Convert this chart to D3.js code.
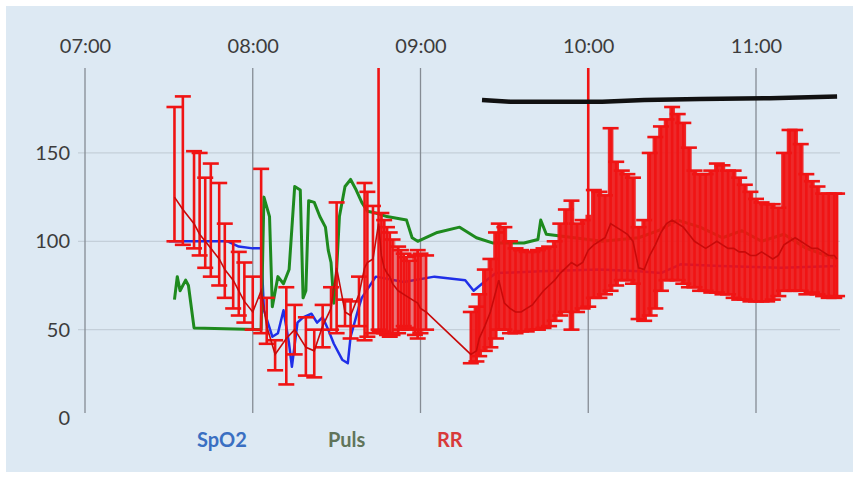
<!DOCTYPE html>
<html>
<head>
<meta charset="utf-8">
<script src="https://cdn.jsdelivr.net/npm/d3@7"></script>
<style>
  body { margin: 0; background: #fff; }
  text { font-family: Lato, "Open Sans", sans-serif; }
</style>
</head>
<body>
<div id="chart"></div>
<script>
'use strict'

// hour ticks (top axis) and value ticks (left axis)
var hourTicks = ["07:00", "08:00", "09:00", "10:00", "11:00"];
var valueTicks = [0, 50, 100, 150];
var seriesNames = ["SpO2", "Puls", "RR"];

// SpO2 (blue line)
var spo2Time = ["07:30","07:41","07:51","07:55","08:00","08:03","08:04","08:07","08:09","08:11","08:13","08:14","08:16","08:18","08:21","08:23","08:25","08:27","08:29","08:32","08:34","08:35","08:38","08:39","08:44","08:54","09:05","09:16","09:19","09:22","09:27","09:43","10:04","10:18","10:26","10:33","10:47","11:09","11:29"];
var spo2Value = [100,100,100,97,96,96,61,46,48,61,42,29,54,57,59,54,57,50,42,33,31,46,63,68,80,77,80,78,72,76,82,83,84,83,82,87,86,85,86];

// Puls (green line)
var pulsTime = ["07:32","07:33","07:34","07:36","07:37","07:39","08:03","08:04","08:06","08:07","08:09","08:11","08:13","08:15","08:17","08:18","08:19","08:20","08:22","08:24","08:26","08:27","08:28","08:29","08:30","08:31","08:33","08:35","08:37","08:39","08:41","08:44","08:48","08:55","08:57","08:59","09:06","09:14","09:20","09:26","09:37","09:42","09:43","09:45","09:55","10:05","10:18","10:25","10:32","10:40","10:48","10:55","11:02","11:10","11:18","11:25","11:29"];
var pulsValue = [67,80,72,78,75,51,50,125,114,63,80,76,84,131,129,68,72,123,122,114,108,95,88,65,84,114,131,135,129,122,117,116,114,112,102,100,105,108,102,99,99,101,112,104,102,100,102,106,112,108,102,106,100,104,96,92,90];

// RR: mean with min / max whiskers
var rrTime = ["07:32","07:35","07:39","07:41","07:43","07:45","07:48","07:50","07:53","07:55","07:57","08:00","08:03","08:05","08:08","08:12","08:15","08:19","08:22","08:25","08:28","08:30","08:33","08:35","08:38","08:40","08:41","08:43","08:45","08:46","08:47","08:48","08:49","08:50","08:52","08:53","08:54","08:55","08:56","08:58","08:59","09:00","09:02",
  "09:18","09:20","09:21","09:23","09:25","09:27","09:28","09:30","09:32","09:34","09:36","09:38","09:40","09:42","09:44","09:46","09:48","09:50","09:52","09:54","09:56","09:58","10:00","10:02","10:04","10:06","10:08","10:10","10:12","10:14","10:16","10:18","10:20","10:22","10:24","10:26","10:28","10:30","10:32","10:34","10:36","10:38","10:40","10:42","10:44","10:46","10:48","10:50","10:52","10:54","10:56","10:58","11:00","11:02","11:04","11:06","11:08","11:10","11:12","11:14","11:16","11:18","11:20","11:22","11:24","11:26","11:28","11:29"];
var rrMean = [125,118,110,104,100,96,90,84,78,72,66,60,72,52,36,45,50,40,38,52,62,85,60,58,70,85,88,90,110,92,85,82,80,76,72,71,70,69,68,66,65,62,60,
  36,38,45,52,60,72,78,65,62,60,60,62,64,68,72,75,78,82,85,88,86,88,95,98,100,102,110,108,106,104,100,85,84,92,98,105,110,112,110,108,104,100,98,96,98,100,98,96,96,94,94,92,92,94,92,90,92,98,100,102,100,98,96,96,94,92,92,90];
var rrLow = [100,98,96,92,85,80,75,68,62,58,54,50,48,42,27,19,36,24,23,40,50,48,52,45,52,44,46,48,50,49,48,47,46,47,48,50,52,51,50,47,45,48,50,
  31,32,35,38,40,45,50,50,48,48,49,49,50,50,51,52,55,58,60,50,60,62,63,68,68,70,72,75,78,78,76,56,55,58,62,72,78,78,78,76,74,74,72,72,71,71,70,70,68,67,67,66,66,66,66,67,69,72,72,72,72,70,71,70,69,68,68,69];
var rrHigh = [176,182,151,150,136,144,133,110,100,94,88,80,141,68,44,74,64,57,50,64,74,122,67,66,80,133,128,120,240,116,112,108,105,101,97,95,93,91,89,92,95,93,92,
  60,63,70,84,90,105,110,108,100,96,95,94,94,95,96,97,100,110,118,123,110,112,240,129,128,126,164,145,140,138,136,108,112,150,159,165,169,176,172,167,153,140,138,138,140,144,143,140,140,136,132,128,124,122,121,121,119,150,163,163,155,138,134,131,127,127,127,127];

// reference line (black)
var refTime = ["09:22","09:32","09:45","10:05","10:20","10:40","11:05","11:29"];
var refValue = [180,179,179,179,180,180.5,181,182];

// parts of RR dense enough to read as a band: start, end, opacity
var bandRanges = [["08:46", "09:02", 0.55], ["09:18", "11:29", 0.9]];

const W = 859, H = 478;
const colors = { SpO2: "#1f2fe8", Puls: "#1e8a1e", RR: "#f01414" };
const legendColors = { SpO2: "#3a6fc2", Puls: "#60745a", RR: "#d83a3a" };

var parse = d3.timeParse("%H:%M");

var svg = d3.select('#chart').append('svg')
  .attr('width', W)
  .attr('height', H);

// panel background
svg.append('rect')
  .attr('x', 6).attr('y', 6)
  .attr('width', 847).attr('height', 466)
  .attr('fill', '#dde9f3');

var x = d3.scaleTime()
  .domain([parse("07:00"), parse("11:00")])
  .range([85, 756]);

var y = d3.scaleLinear()
  .domain([0, 200])
  .range([418, 64.6]);

var plotTop = 68, plotBottom = 413;

// clip for the spikes that run off the top
svg.append('clipPath').attr('id', 'clip')
  .append('rect')
  .attr('x', 60).attr('y', plotTop)
  .attr('width', 800).attr('height', plotBottom - plotTop + 20);

// horizontal grid
svg.append('g')
  .selectAll('line')
  .data(valueTicks.filter(d => d > 0))
  .enter().append('line')
  .attr('x1', 78).attr('x2', 840)
  .attr('y1', d => y(d)).attr('y2', d => y(d))
  .style('stroke', '#c4cfd9')
  .style('stroke-width', 1.2);

// vertical hour lines
svg.append('g')
  .selectAll('line')
  .data(hourTicks)
  .enter().append('line')
  .attr('x1', d => x(parse(d))).attr('x2', d => x(parse(d)))
  .attr('y1', plotTop).attr('y2', plotBottom)
  .style('stroke', '#858c94')
  .style('stroke-width', 1.3);

// top axis labels
var xAxis = d3.axisTop(x)
  .tickValues(hourTicks.map(parse))
  .tickFormat(d3.timeFormat("%H:%M"))
  .tickSize(0)
  .tickPadding(0);
var xg = svg.append('g')
  .attr('transform', 'translate(0, 53)')
  .call(xAxis);
xg.select('.domain').remove();
xg.selectAll('text')
  .style('font-size', '20px')
  .style('fill', '#3c3c3c');

// left axis labels
var yAxis = d3.axisLeft(y)
  .tickValues(valueTicks)
  .tickSize(0)
  .tickPadding(0);
var yg = svg.append('g')
  .attr('transform', 'translate(70, 0)')
  .call(yAxis);
yg.select('.domain').remove();
yg.selectAll('text')
  .style('font-size', '20px')
  .style('fill', '#3c3c3c');

var plot = svg.append('g').attr('clip-path', 'url(#clip)');

var lineGen = d3.line()
  .x(d => x(parse(d.t)))
  .y(d => y(d.v));

var spo2 = spo2Time.map((t, i) => ({ t: t, v: spo2Value[i] }));
var puls = pulsTime.map((t, i) => ({ t: t, v: pulsValue[i] }));
var rr = rrTime.map((t, i) => ({ t: t, mean: rrMean[i], low: rrLow[i], high: rrHigh[i] }));
var ref = refTime.map((t, i) => ({ t: t, v: refValue[i] }));

plot.append('path')
  .datum(spo2)
  .attr('d', lineGen)
  .style('fill', 'none')
  .style('stroke', colors.SpO2)
  .style('stroke-width', 2.5)
  .style('stroke-linejoin', 'round');

plot.append('path')
  .datum(puls)
  .attr('d', lineGen)
  .style('fill', 'none')
  .style('stroke', colors.Puls)
  .style('stroke-width', 3)
  .style('stroke-linejoin', 'round');

// RR band in the dense parts (spikes left out of the band, their whisker shows them)
var bandArea = d3.area()
  .curve(d3.curveStep)
  .x(d => x(parse(d.t)))
  .y0(d => y(d.low))
  .y1(d => y(d.high > 200 ? d.mean + 20 : d.high));
bandRanges.forEach(function(r) {
  var seg = rr.filter(d => parse(d.t) >= parse(r[0]) && parse(d.t) <= parse(r[1]));
  plot.append('path')
    .datum(seg)
    .attr('d', bandArea)
    .style('fill', colors.RR)
    .style('fill-opacity', r[2]);
});

// RR whiskers
var capW = 8;
var bars = plot.append('g').selectAll('g')
  .data(rr)
  .enter().append('g')
  .style('stroke', colors.RR);
bars.append('line')
  .attr('x1', d => x(parse(d.t))).attr('x2', d => x(parse(d.t)))
  .attr('y1', d => y(d.low)).attr('y2', d => y(d.high))
  .style('stroke-width', 2.6);
bars.append('line')
  .attr('x1', d => x(parse(d.t)) - capW).attr('x2', d => x(parse(d.t)) + capW)
  .attr('y1', d => y(d.high)).attr('y2', d => y(d.high))
  .style('stroke-width', 2.6);
bars.append('line')
  .attr('x1', d => x(parse(d.t)) - capW).attr('x2', d => x(parse(d.t)) + capW)
  .attr('y1', d => y(d.low)).attr('y2', d => y(d.low))
  .style('stroke-width', 2.6);

// RR mean line
plot.append('path')
  .datum(rr)
  .attr('d', d3.line().x(d => x(parse(d.t))).y(d => y(d.mean)))
  .style('fill', 'none')
  .style('stroke', '#c80a0a')
  .style('stroke-width', 1.6);

// black reference line
plot.append('path')
  .datum(ref)
  .attr('d', lineGen)
  .style('fill', 'none')
  .style('stroke', '#111')
  .style('stroke-width', 4.5);

// legend
var legendX = [197, 328, 437];
svg.append('g')
  .selectAll('text')
  .data(seriesNames)
  .enter().append('text')
  .attr('x', (d, i) => legendX[i])
  .attr('y', 447)
  .style('font-size', '20px')
  .style('font-weight', 'bold')
  .style('fill', d => legendColors[d])
  .text(d => d);
</script>
</body>
</html>
